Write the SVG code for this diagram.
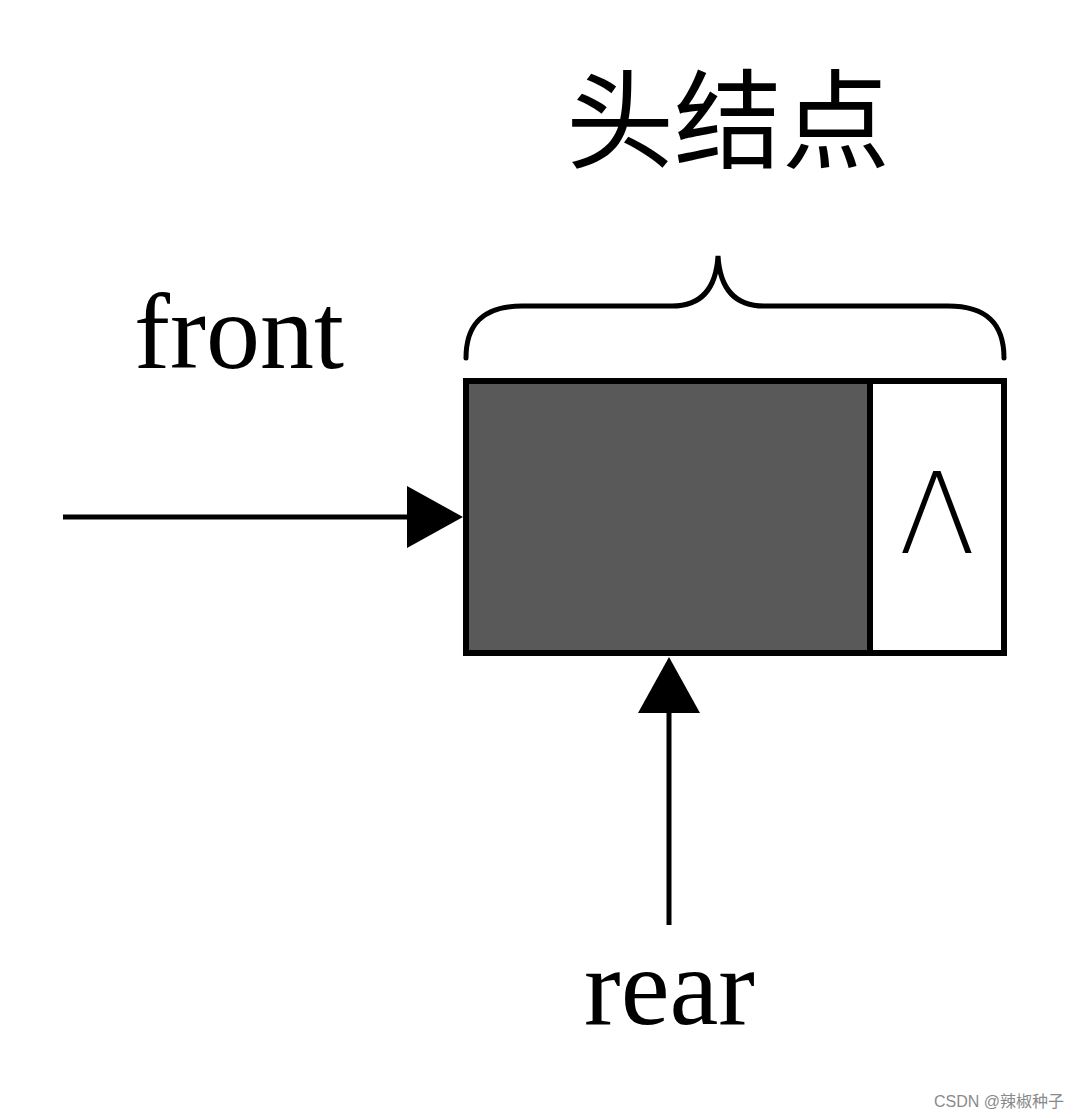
<svg xmlns="http://www.w3.org/2000/svg" width="1080" height="1118" viewBox="0 0 1080 1118">
<style>
.ln{stroke:#000;stroke-width:5;fill:none}
.serif{font-family:"Liberation Serif","Times New Roman",serif;fill:#000}
</style>
<defs>
<marker id="ah" markerUnits="userSpaceOnUse" markerWidth="60" markerHeight="62" refX="1" refY="31" orient="auto" overflow="visible">
<path d="M0,0 L56,31 L0,62 Z" fill="#000"/>
</marker>
</defs>
<rect width="1080" height="1118" fill="#fff"/>
<g id="title">
<text x="728" y="160" text-anchor="middle" font-family="'Noto Sans CJK SC',sans-serif" font-size="108" fill="#000">头结点</text>
</g>
<g id="brace">
<path class="ln" stroke-width="6" stroke-linecap="round" d="M466,358 C466,325 482,306 522,306 L672,306 C700,306 716,290 718,256 C720,290 736,306 764,306 L948,306 C988,306 1004,325 1004,358"/>
</g>
<g id="node">
<rect x="466" y="381" width="404" height="272" fill="#595959" stroke="#000" stroke-width="6"/>
<rect x="870" y="381" width="134" height="272" fill="#fff" stroke="#000" stroke-width="6"/>
<text x="937" y="553" text-anchor="middle" font-family="'DejaVu Sans',sans-serif" font-weight="200" font-size="112" fill="#000">Λ</text>
</g>
<g id="front">
<text class="serif" x="134" y="368" font-size="108">front</text>
</g>
<g id="rear">
<text class="serif" x="584" y="1024" font-size="110">rear</text>
</g>
<g id="connectors">
<line class="ln" x1="63" y1="517" x2="408" y2="517" marker-end="url(#ah)"/>
<line class="ln" x1="669" y1="925" x2="669" y2="712" marker-end="url(#ah)"/>
</g>
<text x="1064" y="1107" text-anchor="end" font-family="'Liberation Sans','Noto Sans CJK SC',sans-serif" font-size="16" fill="#8a8a8a">CSDN @辣椒种子</text>
</svg>
